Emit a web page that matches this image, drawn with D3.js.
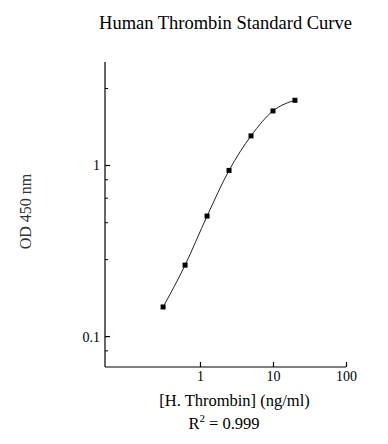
<!DOCTYPE html>
<html>
  <head>
    <title>Human Thrombin Standard Curve</title>
    <style type="text/css">
        body { margin: 0; background: #fff; }
        text { font-family: "Liberation Serif", "Times New Roman", serif; fill: #000; }
    </style>
  </head>
  <body>
    <svg width="388" height="444"></svg>
    <script src="https://d3js.org/d3.v7.min.js"></script>
    <script>

    // Standard curve data (concentration ng/ml, OD 450 nm)
    var conc = [0.3125, 0.625, 1.25, 2.5, 5, 10, 20];
    var od = [0.148, 0.26, 0.503, 0.93, 1.48, 2.07, 2.39];

    var xTicks = [1, 10, 100];
    var yTicks = [0.1, 1];
    var yMinor = [0.082, 0.28, 0.46, 0.64, 0.82, 2.8];

    var svg = d3.select("svg");

    var x = d3.scaleLog()
        .domain([0.05, 100])
        .range([105, 346]);

    var y = d3.scaleLog()
        .domain([0.066, 4])
        .range([367, 62]);

    // Axes, ticks pointing inward
    var xAxis = svg.append("g")
        .attr("transform", "translate(0,367)")
        .call(d3.axisTop(x)
            .tickValues(xTicks)
            .tickSize(5)
            .tickFormat(""))
        .call(function(g) { g.select(".domain").attr("d", "M105,0H346"); });

    xAxis.selectAll(".tick").append("text")
        .attr("y", 14)
        .attr("text-anchor", "middle")
        .style("font-size", "14px")
        .text(function(d) { return d; });

    var yAxis = svg.append("g")
        .attr("transform", "translate(105,0)")
        .call(d3.axisRight(y)
            .tickValues(yTicks)
            .tickSize(5)
            .tickFormat(""))
        .call(function(g) { g.select(".domain").attr("d", "M0,62V367"); });

    yAxis.selectAll(".tick").append("text")
        .attr("x", -5)
        .attr("dy", "0.35em")
        .attr("text-anchor", "end")
        .style("font-size", "14px")
        .text(function(d) { return d; });

    yAxis.selectAll(".minor")
        .data(yMinor)
        .enter().append("line")
        .attr("class", "minor")
        .attr("x1", 0)
        .attr("x2", 3)
        .attr("y1", function(d) { return y(d); })
        .attr("y2", function(d) { return y(d); })
        .attr("stroke", "#000");

    svg.selectAll("g").attr("font-family", null);
    svg.selectAll(".domain, .tick line").attr("stroke", "#000").attr("stroke-width", 1.2);

    // Fitted curve through the points
    var pts = conc.map(function(c, i) { return [c, od[i]]; });

    var line = d3.line()
        .x(function(d) { return x(d[0]); })
        .y(function(d) { return y(d[1]); })
        .curve(d3.curveMonotoneX);

    svg.append("path")
        .datum(pts)
        .attr("fill", "none")
        .attr("stroke", "#222")
        .attr("stroke-width", 1)
        .attr("d", line);

    svg.selectAll(".pt")
        .data(pts)
        .enter().append("rect")
        .attr("class", "pt")
        .attr("x", function(d) { return x(d[0]) - 2.5; })
        .attr("y", function(d) { return y(d[1]) - 2.5; })
        .attr("width", 5)
        .attr("height", 5)
        .attr("fill", "#000");

    // Titles
    svg.append("text")
        .attr("x", 225.5)
        .attr("y", 29)
        .attr("text-anchor", "middle")
        .style("font-size", "18.5px")
        .text("Human Thrombin Standard Curve");

    svg.append("text")
        .attr("x", 234.5)
        .attr("y", 406)
        .attr("text-anchor", "middle")
        .style("font-size", "16.5px")
        .text("[H. Thrombin] (ng/ml)");

    var r2 = svg.append("text")
        .attr("x", 224)
        .attr("y", 429)
        .attr("text-anchor", "middle")
        .style("font-size", "16.5px");
    r2.append("tspan").text("R");
    r2.append("tspan").attr("dy", -7).style("font-size", "11px").text("2");
    r2.append("tspan").attr("dy", 7).text(" = 0.999");

    svg.append("text")
        .attr("transform", "translate(31,211.5) rotate(-90)")
        .attr("text-anchor", "middle")
        .style("font-size", "16px")
        .style("fill", "#333")
        .text("OD 450 nm");

    </script>
  </body>
</html>
